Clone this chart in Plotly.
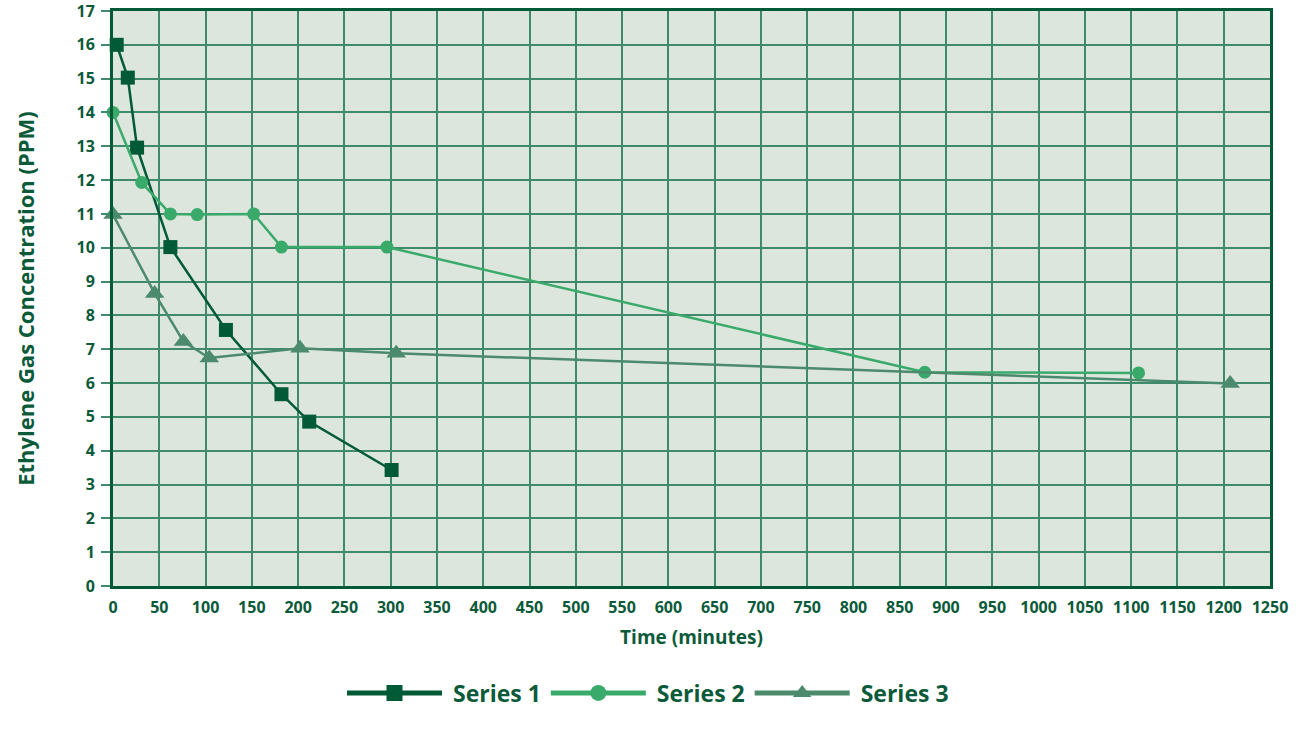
import plotly.graph_objects as go

# Data
s1_x = [4, 16, 26, 62, 122, 182, 212, 301]
s1_y = [16.0, 15.03, 12.96, 10.02, 7.57, 5.67, 4.86, 3.43]

s2_x = [0, 31, 62, 91, 152, 182, 296, 877, 1108]
s2_y = [14.0, 11.93, 11.0, 10.98, 11.0, 10.02, 10.02, 6.32, 6.3]

s3_x = [0, 45, 76, 104, 202, 306, 1207]
s3_y = [10.98, 8.65, 7.23, 6.74, 7.03, 6.88, 5.99]

series_names = ["Series 1", "Series 2", "Series 3"]
series_colors = ["#005a36", "#3aaa6a", "#4b8a6c"]
series_symbols = ["square", "circle", "triangle-up"]
marker_sizes = [14, 13, 17]

x_ticks = list(range(0, 1251, 50))
y_ticks = list(range(0, 18, 1))

TEXT = "#0b5a3a"
GRID = "#3f8a6b"
FONT = "Open Sans"

fig = go.Figure()
data = [(s1_x, s1_y), (s2_x, s2_y), (s3_x, s3_y)]
for (xs, ys), name, col, sym, ms in zip(data, series_names, series_colors, series_symbols, marker_sizes):
    fig.add_trace(go.Scatter(
        x=xs, y=ys, mode="lines+markers", name=name, showlegend=False,
        line=dict(color=col, width=2.5),
        marker=dict(symbol=sym, size=ms, color=col),
        cliponaxis=False,
    ))
# legend entries
for name, col, sym in zip(series_names, series_colors, series_symbols):
    fig.add_trace(go.Scatter(
        x=[None], y=[None], mode="lines+markers", name="\u00a0" + name, showlegend=True,
        line=dict(color=col, width=5),
        marker=dict(symbol=sym, size=22, color=col),
    ))

fig.update_layout(
    width=1296, height=730,
    paper_bgcolor="white", plot_bgcolor="#dce6dc",
    margin=dict(l=113, r=26, t=11, b=144, autoexpand=False),
    font=dict(family=FONT, color=TEXT, size=16, weight="bold"),
    legend=dict(
        orientation="h", xref="container", yref="container",
        x=0.5, xanchor="center", y=1 - 693 / 730, yanchor="middle",
        itemwidth=95, font=dict(size=23, family=FONT, color=TEXT, weight="bold"),
        bgcolor="rgba(0,0,0,0)", tracegroupgap=0,
    ),
    showlegend=True,
)
fig.update_xaxes(
    range=[0, 1250], tickvals=x_ticks, ticktext=[str(v) for v in x_ticks],
    showgrid=True, gridcolor=GRID, gridwidth=1.5,
    showline=True, linecolor="#005a36", linewidth=3, mirror=True,
    ticks="", zeroline=False, ticklabelstandoff=5,
    tickfont=dict(size=16, family=FONT, color=TEXT, weight="bold"),
    title=dict(text="Time (minutes)", standoff=14,
               font=dict(size=19, family=FONT, color=TEXT, weight="bold")),
)
fig.update_yaxes(
    range=[0, 17], tickvals=y_ticks, ticktext=[str(v) for v in y_ticks],
    showgrid=True, gridcolor=GRID, gridwidth=1.5,
    showline=True, linecolor="#005a36", linewidth=3, mirror=True,
    ticks="outside", ticklen=9, tickcolor=GRID, tickwidth=1.5,
    zeroline=False, ticklabelstandoff=3, ticklabeloverflow="allow",
    tickfont=dict(size=16, family=FONT, color=TEXT, weight="bold"),
    title=dict(text="Ethylene Gas Concentration (PPM)", standoff=36,
               font=dict(size=22, family=FONT, color=TEXT, weight="bold")),
)

fig.write_html("out.html", config={"displayModeBar": False},
               post_script="document.body.style.margin='0';")
